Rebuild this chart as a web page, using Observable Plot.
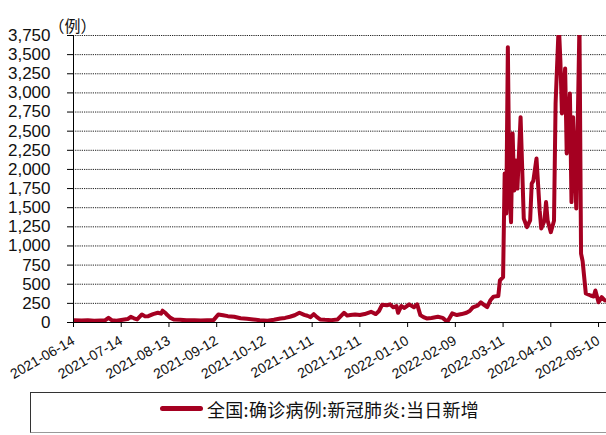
<!DOCTYPE html>
<html>
<head>
<meta charset="utf-8">
<script src="https://cdn.jsdelivr.net/npm/d3@7"></script>
<script src="https://cdn.jsdelivr.net/npm/@observablehq/plot@0.6"></script>
<style>
  html, body { margin: 0; padding: 0; background: #fff; }
  #wrap { position: relative; width: 606px; height: 435px; overflow: hidden; }
  #legend { position: absolute; left: 0; top: 390px; width: 606px; height: 45px; }
  #box { position: absolute; left: 30px; top: 2px; width: 620px; height: 41px;
         border-top: 1.5px solid #333; border-left: 1px solid #333; border-bottom: 1px solid #999; box-sizing: border-box; }
  #swatch { position: absolute; left: 160px; top: 16px; width: 43px; height: 5px; border-radius: 2.5px; background: #A50021; }
  #ltext { position: absolute; left: 207px; top: 8px; font-family: "Noto Sans CJK SC", sans-serif; font-size: 18px; line-height: 22px; color: #111; white-space: nowrap; letter-spacing: 0.3px; }
</style>
</head>
<body>
<div id="wrap">
  <div id="chart"></div>
  <div id="legend"><div id="box"></div><div id="swatch"></div><div id="ltext"></div></div>
</div>
<script>
// ---- data ----
const seriesName = "全国:确诊病例:新冠肺炎:当日新增";
const unitLabel = "（例）";
const dates = [
  "2021-06-14","2021-06-19","2021-06-23","2021-06-27","2021-07-01","2021-07-04","2021-07-06","2021-07-08","2021-07-11",
  "2021-07-15","2021-07-18","2021-07-20","2021-07-22","2021-07-24","2021-07-27","2021-07-29","2021-07-31","2021-08-03",
  "2021-08-06","2021-08-08","2021-08-09","2021-08-11","2021-08-12","2021-08-14","2021-08-16","2021-08-20","2021-08-24",
  "2021-08-29","2021-09-02","2021-09-06","2021-09-10","2021-09-13","2021-09-16","2021-09-19","2021-09-23","2021-09-27",
  "2021-10-01","2021-10-05","2021-10-09","2021-10-14","2021-10-18","2021-10-22","2021-10-25","2021-10-28","2021-10-31",
  "2021-11-03","2021-11-06","2021-11-08","2021-11-10","2021-11-12","2021-11-14","2021-11-16","2021-11-19","2021-11-23",
  "2021-11-27","2021-12-01","2021-12-03","2021-12-05","2021-12-08","2021-12-11","2021-12-14","2021-12-18","2021-12-21",
  "2021-12-23","2021-12-25","2021-12-28","2021-12-30","2022-01-01","2022-01-03","2022-01-04","2022-01-06","2022-01-08",
  "2022-01-11","2022-01-14","2022-01-16","2022-01-18","2022-01-20","2022-01-22","2022-01-25","2022-01-29","2022-02-01",
  "2022-02-04","2022-02-07","2022-02-10","2022-02-13","2022-02-16","2022-02-18","2022-02-20","2022-02-23","2022-02-25",
  "2022-02-27","2022-03-01","2022-03-03","2022-03-05","2022-03-08","2022-03-09","2022-03-11","2022-03-12","2022-03-13",
  "2022-03-14","2022-03-15","2022-03-16","2022-03-17","2022-03-18","2022-03-19","2022-03-20","2022-03-22","2022-03-24",
  "2022-03-26","2022-03-28","2022-03-29","2022-03-30","2022-04-01","2022-04-03","2022-04-04","2022-04-06","2022-04-07",
  "2022-04-08","2022-04-10","2022-04-12","2022-04-13","2022-04-15","2022-04-16","2022-04-17","2022-04-19","2022-04-20",
  "2022-04-22","2022-04-23","2022-04-24","2022-04-26","2022-04-28","2022-04-29","2022-04-30","2022-05-02","2022-05-05",
  "2022-05-07","2022-05-08","2022-05-10","2022-05-12","2022-05-14"
];
const values = [
  31,25,28,22,26,30,61,30,22,
  35,45,75,55,40,105,80,83,110,
  127,115,154,120,97,60,40,35,28,
  31,25,30,31,105,95,83,75,55,
  48,40,30,22,35,53,60,75,95,
  127,100,88,70,110,70,40,35,31,
  40,127,90,97,105,97,110,140,110,
  150,233,225,237,198,215,127,215,190,
  237,200,237,97,70,53,60,75,60,
  9,119,97,110,127,150,198,220,263,
  230,200,290,338,347,549,592,1947,1424,
  3598,1686,1311,2470,1725,2117,1750,2683,1359,
  1246,1333,1816,1850,2143,1464,1228,1330,1573,
  1333,1180,1330,2862,3900,3424,2731,3320,2209,
  2993,1573,2683,1490,3900,901,800,379,353,
  340,418,265,331,288
];
const yTicks = [0,250,500,750,1000,1250,1500,1750,2000,2250,2500,2750,3000,3250,3500,3750];
const xTickLabels = ["2021-06-14","2021-07-14","2021-08-13","2021-09-12","2021-10-12","2021-11-11",
  "2021-12-11","2022-01-10","2022-02-09","2022-03-11","2022-04-10","2022-05-10"];
const xDomain = ["2021-06-14","2022-05-15"];

// ---- build ----
const data = dates.map((d, i) => ({date: new Date(d), value: values[i]}));
const xTicks = xTickLabels.map(d => new Date(d));
const color = "#A50021";

const chart = Plot.plot({
  width: 606,
  height: 390,
  marginLeft: 73,
  marginRight: 0,
  marginTop: 35,
  marginBottom: 68,
  style: {fontFamily: "'Liberation Sans', Arial, sans-serif", background: "#fff", color: "#111", overflow: "visible"},
  x: {type: "utc", domain: xDomain.map(d => new Date(d))},
  y: {domain: [0, 3750]},
  marks: [
    Plot.gridY(yTicks.filter(d => d > 0), {stroke: "#222", strokeOpacity: 1, strokeWidth: 1, strokeDasharray: "1.2,1"}),
    Plot.line(data, {x: "date", y: "value", stroke: color, strokeWidth: 4, strokeLinejoin: "round", clip: true}),
    Plot.ruleY([0], {stroke: "#000", strokeWidth: 1}),
    Plot.ruleX([xTicks[0]], {y1: 0, y2: 3750, stroke: "#000", strokeWidth: 1}),
    Plot.axisY(yTicks, {tickSize: 6, tickPadding: 17, fontSize: 17, tickFormat: d3.format(","), label: null, stroke: "#000"}),
    Plot.axisX(xTicks, {tickSize: 5, tickPadding: 12, tickRotate: -30, fontSize: 14, tickFormat: d3.utcFormat("%Y-%m-%d"), label: null, stroke: "#000"}),
    Plot.text([unitLabel], {frameAnchor: "top-left", textAnchor: "middle", dx: -1, dy: -15, fontSize: 16, fontFamily: "'Noto Sans CJK SC', sans-serif", fill: "#111"})
  ]
});
document.getElementById("chart").appendChild(chart);
document.getElementById("ltext").textContent = seriesName;
document.getElementById("swatch").style.background = color;
</script>
</body>
</html>
